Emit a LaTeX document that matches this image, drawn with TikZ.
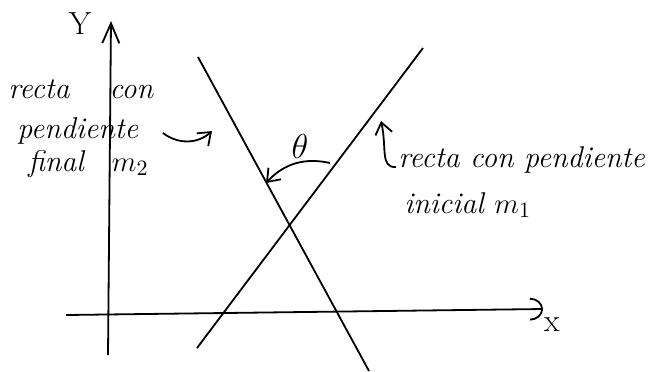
\documentclass[tikz,border=0pt]{standalone}
\usepackage{amsmath}
\usetikzlibrary{arrows.meta,positioning}

\begin{document}
\begin{tikzpicture}[x=0.5pt,y=-0.5pt,
  hand/.style={font=\fontsize{15}{18}\selectfont\itshape,inner sep=0pt,anchor=base west},
  lbl/.style={font=\fontsize{16}{19}\selectfont,inner sep=0pt},
  stroke/.style={line width=0.9pt},
  >={Straight Barb[length=2mm,width=3mm]}]
\useasboundingbox (0,0) rectangle (658,371);
% ejes
\coordinate (ybot) at (108,355);
\coordinate (ytop) at (111,21);
\coordinate (xleft) at (66,315);
\coordinate (xright) at (543,309);
\draw[stroke,-{Straight Barb[length=3.5mm,width=3mm]}] (ybot) -- (ytop);
\draw[stroke,-{Arc Barb[length=2.3mm,width=4mm]}] (xleft) -- (xright);
\node[lbl] (ylab) at (80,24) {Y};
\node[lbl] (xlab) at (552,325) {x};
% rectas
\coordinate (m2top) at (198,57);
\coordinate (m2bot) at (369,371);
\coordinate (m1bot) at (197,348);
\coordinate (m1top) at (423,48);
\draw[stroke] (m2top) -- (m2bot);
\draw[stroke] (m1bot) -- (m1top);
% textos
\node[hand] (fin1) at (8,98)  {recta\hspace{20pt}con};
\node[hand] (fin2) at (17,138) {pendiente};
\node[hand] (fin3) at (28,171) {final\hspace{14pt}$m_2$};
\node[hand] (ini1) at (398,167) {recta con pendiente};
\node[hand] (ini2) at (404,213) {inicial $m_1$};
\node[lbl,font=\fontsize{18}{20}\selectfont] (theta) at (300,146) {$\theta$};
% flechas
\coordinate (fa) at (163,133);
\coordinate (fb) at (212,131);
\draw[stroke,->] (fa) to[bend right=40] (fb);
\coordinate (ta) at (330,163);
\coordinate (tb) at (266,183);
\draw[stroke,->] (ta) to[bend right=30] (tb);
\coordinate (ha) at (396,167);
\coordinate (hb) at (381,121);
\draw[stroke,->] (ha) .. controls (380,168) and (387,148) .. (hb);
\end{tikzpicture}
\end{document}
